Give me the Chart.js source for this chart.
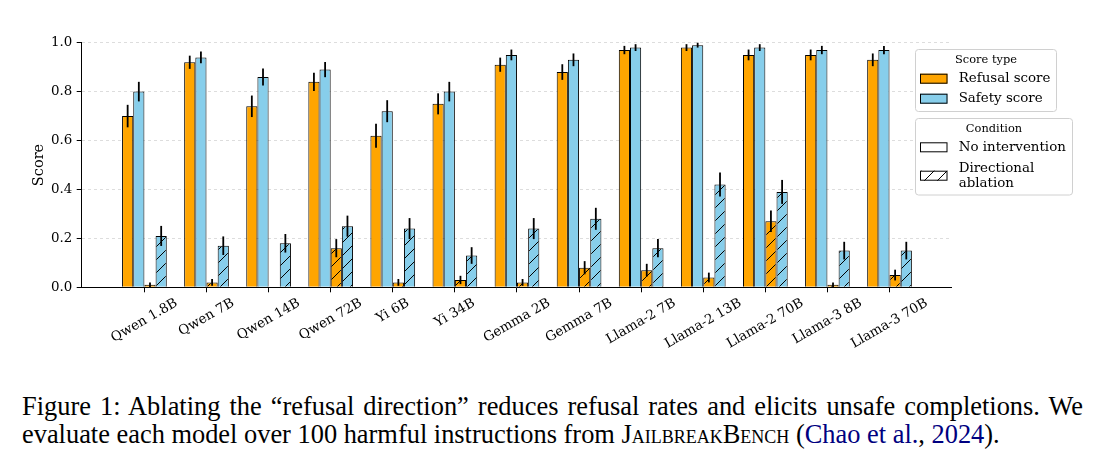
<!DOCTYPE html>
<html><head><meta charset="utf-8">
<script src="https://cdn.jsdelivr.net/npm/chart.js@4.4.1/dist/chart.umd.min.js"></script>
<style>
html,body{margin:0;padding:0;background:#fff;}
#wrap{position:relative;width:1120px;height:476px;overflow:hidden;background:#fff;}
#c{position:absolute;left:0;top:0;}
#cap{position:absolute;left:22px;top:392px;font-family:"Liberation Serif","Times New Roman",serif;font-size:26.4px;line-height:28px;color:#000;white-space:nowrap;}
.sc{font-variant:small-caps;}
.cite{color:#000080;}
</style></head>
<body>
<div id="wrap">
<canvas id="c" width="1120" height="370"></canvas>
<div id="cap"><span id="l1">Figure 1: Ablating the “refusal direction” reduces refusal rates and elicits unsafe completions. We</span><br><span id="l2">evaluate each model over 100 harmful instructions from <span class="sc">JailbreakBench</span> (<span class="cite">Chao et al.</span>, <span class="cite">2024</span>).</span></div>
</div>
<script>
const models = ['Qwen 1.8B','Qwen 7B','Qwen 14B','Qwen 72B','Yi 6B','Yi 34B','Gemma 2B','Gemma 7B','Llama-2 7B','Llama-2 13B','Llama-2 70B','Llama-3 8B','Llama-3 70B'];
const refusalNoInt = [0.70,0.92,0.74,0.84,0.62,0.75,0.91,0.88,0.97,0.98,0.95,0.95,0.93];
const safetyNoInt  = [0.80,0.94,0.86,0.89,0.72,0.80,0.95,0.93,0.98,0.99,0.98,0.97,0.97];
const refusalAbl   = [0.01,0.02,0.00,0.16,0.02,0.03,0.02,0.08,0.07,0.04,0.27,0.01,0.05];
const safetyAbl    = [0.21,0.17,0.18,0.25,0.24,0.13,0.24,0.28,0.16,0.42,0.39,0.15,0.15];
const refusalNoIntErr = [0.046,0.027,0.044,0.037,0.049,0.043,0.029,0.032,0.017,0.014,0.022,0.022,0.026];
const safetyNoIntErr  = [0.040,0.024,0.035,0.031,0.045,0.040,0.022,0.026,0.014,0.010,0.014,0.017,0.017];
const refusalAblErr   = [0.010,0.014,0.000,0.037,0.014,0.017,0.014,0.027,0.026,0.020,0.044,0.010,0.022];
const safetyAblErr    = [0.041,0.038,0.038,0.043,0.043,0.034,0.043,0.045,0.037,0.049,0.049,0.036,0.036];
const yTickLabels = ['0.0','0.2','0.4','0.6','0.8','1.0'];
const scoreTypes = ['Refusal score','Safety score'];
const conditions = ['No intervention','Directional\nablation'];
const yTitle = 'Score';

const ORANGE = '#FFA500', SKY = '#87CEEB';
const FONT = '"DejaVu Serif", serif';
const FS = 13.4;
const H = 370;

function hatch(bg){
  const s = 13;
  const c = document.createElement('canvas'); c.width = s; c.height = s;
  const g = c.getContext('2d');
  g.fillStyle = bg; g.fillRect(0,0,s,s);
  g.strokeStyle = '#000'; g.lineWidth = 1;
  g.beginPath();
  g.moveTo(-2, s+2); g.lineTo(s+2, -2);
  g.moveTo(-2, 2); g.lineTo(2, -2);
  g.moveTo(s-2, s+2); g.lineTo(s+2, s-2);
  g.stroke();
  return g.createPattern(c, 'repeat');
}
const hOrange = hatch(ORANGE), hSky = hatch(SKY), hWhite = hatch('#ffffff');

function pts(arr){ return arr.map((v,i)=>({x:i, y:v})); }

Chart.defaults.font.family = FONT;
Chart.defaults.font.size = FS;
Chart.defaults.color = '#000';

function rr(ctx,x,y,w,h,r){
  ctx.beginPath();
  ctx.moveTo(x+r,y); ctx.lineTo(x+w-r,y); ctx.quadraticCurveTo(x+w,y,x+w,y+r);
  ctx.lineTo(x+w,y+h-r); ctx.quadraticCurveTo(x+w,y+h,x+w-r,y+h);
  ctx.lineTo(x+r,y+h); ctx.quadraticCurveTo(x,y+h,x,y+h-r);
  ctx.lineTo(x,y+r); ctx.quadraticCurveTo(x,y,x+r,y); ctx.closePath();
}

const overlay = {
  id:'overlay',
  afterDatasetsDraw(chart){
    const {ctx} = chart; const y = chart.scales.y;
    ctx.save();
    ctx.strokeStyle = '#000'; ctx.lineWidth = 1.8;
    chart.data.datasets.forEach((ds,di)=>{
      const meta = chart.getDatasetMeta(di);
      meta.data.forEach((bar,i)=>{
        const v = ds.data[i].y, e = ds.err[i];
        if(!e) return;
        ctx.beginPath();
        ctx.moveTo(bar.x, y.getPixelForValue(Math.max(0,v-e)));
        ctx.lineTo(bar.x, y.getPixelForValue(v+e));
        ctx.stroke();
      });
    });
    ctx.restore();
  },
  afterDraw(chart){
    const {ctx} = chart; const x = chart.scales.x, y = chart.scales.y;
    ctx.save();
    ctx.fillStyle = '#000';
    ctx.font = FS + 'px ' + FONT;
    const a = Math.PI/6;
    const top = y.bottom + 5 + 3;
    models.forEach((m,i)=>{
      const px = x.getPixelForValue(i);
      const L = ctx.measureText(m).width, h = FS*1.15;
      const bh = L*Math.sin(a) + h*Math.cos(a);
      ctx.save();
      ctx.translate(px, top + bh/2);
      ctx.rotate(-a);
      ctx.textAlign = 'center'; ctx.textBaseline = 'middle';
      ctx.fillText(m, 0, 0);
      ctx.restore();
    });
    ctx.save();
    ctx.font = '14.5px ' + FONT;
    ctx.translate(39, (y.top + y.bottom)/2);
    ctx.rotate(-Math.PI/2);
    ctx.textAlign = 'center'; ctx.textBaseline = 'middle';
    ctx.fillText(yTitle, 0, 0);
    ctx.restore();
    const px0 = 920, pw = 27.5, ph = 10, tx = 958.7;
    ctx.lineWidth = 1;
    rr(ctx, 915.5, 49.5, 141, 62, 3);
    ctx.fillStyle = '#fff'; ctx.fill(); ctx.strokeStyle = '#d0d0d0'; ctx.stroke();
    ctx.fillStyle = '#000'; ctx.textAlign = 'center'; ctx.textBaseline = 'middle';
    ctx.font = '11.4px ' + FONT;
    ctx.fillText('Score type', 986, 60.5);
    ctx.font = FS + 'px ' + FONT; ctx.textAlign = 'left';
    const fills1 = [ORANGE, SKY], ys1 = [78.7, 98.7];
    scoreTypes.forEach((t,k)=>{
      ctx.fillStyle = fills1[k]; ctx.fillRect(px0, ys1[k]-ph/2, pw, ph);
      ctx.strokeStyle = '#000'; ctx.strokeRect(px0+0.5, ys1[k]-ph/2+0.5, pw-1, ph-1);
      ctx.fillStyle = '#000'; ctx.fillText(t, tx, ys1[k]);
    });
    rr(ctx, 915.5, 118.5, 157, 76.5, 3);
    ctx.fillStyle = '#fff'; ctx.fill(); ctx.strokeStyle = '#d0d0d0'; ctx.stroke();
    ctx.fillStyle = '#000'; ctx.textAlign = 'center';
    ctx.font = '11.4px ' + FONT;
    ctx.fillText('Condition', 994, 128.8);
    ctx.font = FS + 'px ' + FONT; ctx.textAlign = 'left';
    const fills2 = ['#ffffff', hWhite], ys2 = [147.3, 175.7];
    conditions.forEach((t,k)=>{
      ctx.fillStyle = fills2[k]; ctx.fillRect(px0, ys2[k]-ph/2, pw, ph);
      ctx.strokeStyle = '#000'; ctx.strokeRect(px0+0.5, ys2[k]-ph/2+0.5, pw-1, ph-1);
      ctx.fillStyle = '#000';
      const lines = t.split('\n');
      const lh = 15.2;
      lines.forEach((ln,j)=>{
        ctx.fillText(ln, tx, ys2[k] + (j - (lines.length-1)/2)*lh);
      });
    });
    ctx.restore();
  }
};

const ctx = document.getElementById('c').getContext('2d');
new Chart(ctx, {
  type:'bar',
  data:{datasets:[
    {label:'Refusal score / No intervention', data:pts(refusalNoInt), err:refusalNoIntErr, backgroundColor:ORANGE, borderColor:'#000', borderWidth:1},
    {label:'Safety score / No intervention', data:pts(safetyNoInt), err:safetyNoIntErr, backgroundColor:SKY, borderColor:'#000', borderWidth:1},
    {label:'Refusal score / Directional ablation', data:pts(refusalAbl), err:refusalAblErr, backgroundColor:hOrange, borderColor:'#000', borderWidth:1},
    {label:'Safety score / Directional ablation', data:pts(safetyAbl), err:safetyAblErr, backgroundColor:hSky, borderColor:'#000', borderWidth:1}
  ]},
  options:{
    responsive:false, animation:false, devicePixelRatio:1,
    categoryPercentage:0.72, barPercentage:1,
    layout:{padding:{left:0, right:169, top:42.7, bottom:0}},
    plugins:{legend:{display:false}, tooltip:{enabled:false}},
    scales:{
      x:{type:'linear', min:-1.01, max:12.99, offset:false,
         afterBuildTicks:(s)=>{ s.ticks = models.map((m,i)=>({value:i})); },
         afterFit:(s)=>{ s.height = H - 287.3; },
         ticks:{display:false},
         grid:{display:true, drawOnChartArea:false, drawTicks:true, tickLength:5, tickColor:'#000', offset:false},
         border:{display:true, color:'#000', width:1}},
      y:{min:0, max:1,
         afterFit:(s)=>{ s.width = 81.7; },
         ticks:{stepSize:0.2, padding:4.5, color:'#000', font:{size:FS, family:FONT},
                callback:(v,i)=>yTickLabels[i]},
         grid:{color:'#dddddd', tickColor:'#000', tickLength:5, lineWidth:1},
         border:{display:true, color:'#000', width:1, dash:[3,3]}}
    }
  },
  plugins:[overlay]
});

const l1 = document.getElementById('l1');
const nat = l1.getBoundingClientRect().width;
const nsp = (l1.textContent.match(/ /g)||[]).length;
l1.style.wordSpacing = ((1061 - nat)/nsp) + 'px';
</script>
</body></html>
